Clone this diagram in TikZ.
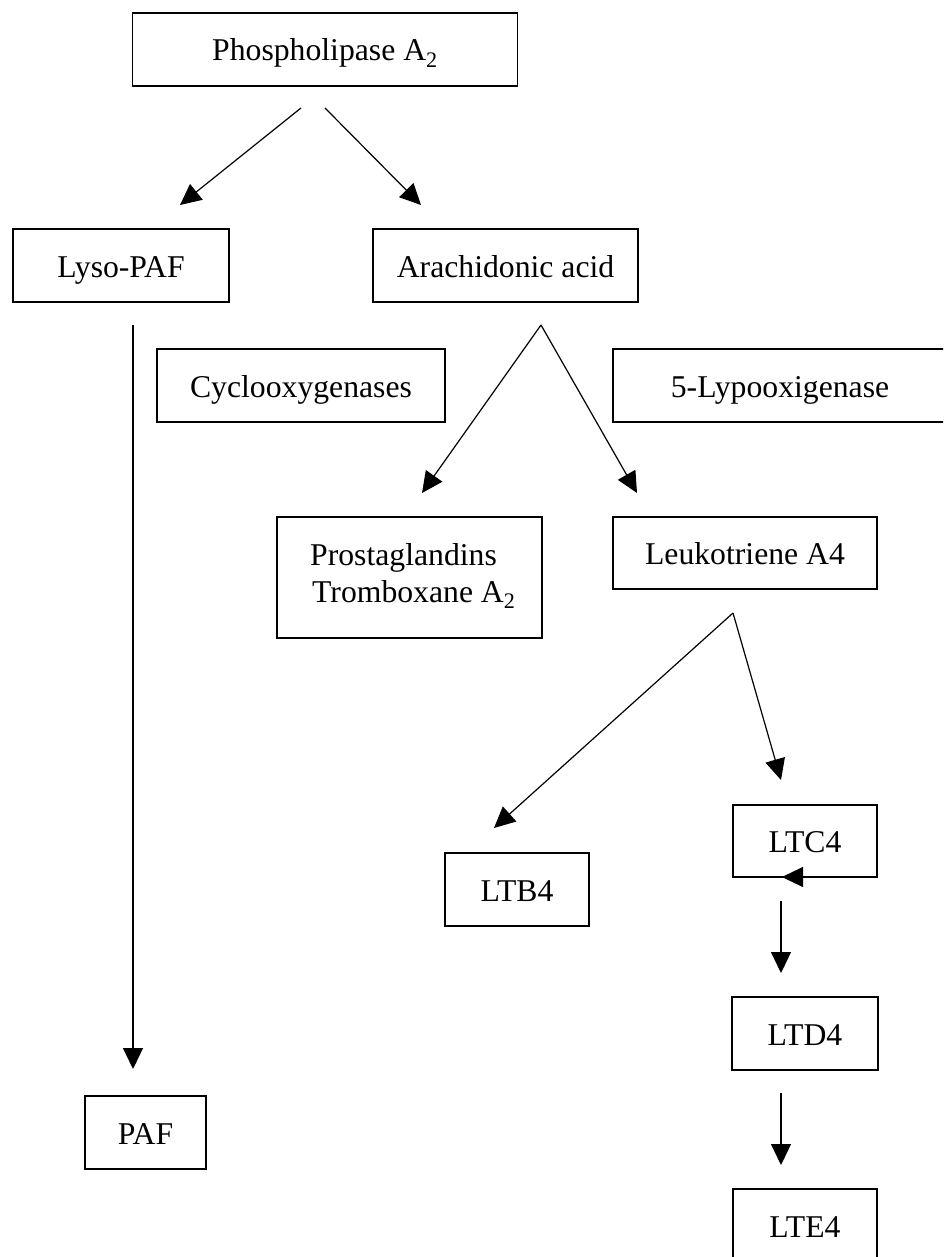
\documentclass[tikz,border=0pt]{standalone}
\usepackage{fontspec}
\setmainfont{Liberation Serif}
\usetikzlibrary{arrows.meta}
\tikzset{
  box/.style={draw, line width=1.4pt, inner sep=0pt, text height=30pt, text depth=7pt,
    font=\fontsize{31.7}{37}\selectfont},
  txt/.style={inner sep=0pt, font=\fontsize{31.7}{37}\selectfont},
  conn/.style={line width=1.2pt, -{Triangle[length=21pt,width=20pt]}},
}
\begin{document}
\begin{tikzpicture}[x=1pt,y=-1pt]
\useasboundingbox (0,0) rectangle (943,1257);
\clip (0,0) rectangle (943,1257);
% boxes
\node[box, minimum width=385, minimum height=73] (pla) at (325,49.5) {Phospholipase A\textsubscript{2}};
\node[box, minimum width=216, minimum height=73] (lyso) at (121,265.5) {Lyso-PAF};
\node[box, minimum width=265, minimum height=73] (arach) at (505.5,265.5) {Arachidonic acid};
\node[box, minimum width=288, minimum height=73] (cox) at (301,385.5) {Cyclooxygenases};
\node[box, minimum width=340, minimum height=73, text width=340, align=center] (lox) at (783,385.5) {\hspace*{-6pt}5-Lypooxigenase};
\node[box, minimum width=265, minimum height=121] (prost) at (409.5,577.5) {};
\node[txt, anchor=base west] (prost1) at (310,565) {Prostaglandins};
\node[txt, anchor=base west] (prost2) at (312,602) {Tromboxane A\textsubscript{2}};
\node[box, minimum width=264, minimum height=72] (leuko) at (745,553) {Leukotriene A4};
\node[box, minimum width=144, minimum height=73] (ltb4) at (517,889.5) {LTB4};
\node[box, minimum width=144, minimum height=72] (ltc4) at (805,841) {LTC4};
\node[box, minimum width=146, minimum height=73] (ltd4) at (805,1033.5) {LTD4};
\node[box, minimum width=144, minimum height=73] (lte4) at (805,1225.5) {LTE4};
\node[box, minimum width=121, minimum height=73] (paf) at (145.5,1132.5) {PAF};
% connector end points
\coordinate (plaL) at (301,108);
\coordinate (plaR) at (325,108);
\coordinate (lysoIn) at (180,205);
\coordinate (arachIn) at (421,205);
\coordinate (lysoOut) at (133,325);
\coordinate (pafIn) at (133,1069);
\coordinate (arachOut) at (541,325);
\coordinate (prostIn) at (422,493);
\coordinate (leukoIn) at (637,493);
\coordinate (leukoOut) at (733,613);
\coordinate (ltbIn) at (494,828);
\coordinate (ltcIn) at (781,780);
\coordinate (ltcOut) at (781,901);
\coordinate (ltdIn) at (781,973);
\coordinate (ltdOut) at (781,1093);
\coordinate (lteIn) at (781,1165);
\coordinate (ltcMarkA) at (803,877);
\coordinate (ltcMarkB) at (782,877);
% connectors
\draw[conn] (plaL) -- (lysoIn);
\draw[conn] (plaR) -- (arachIn);
\draw[conn] (lysoOut) -- (pafIn);
\draw[conn] (arachOut) -- (prostIn);
\draw[conn] (arachOut) -- (leukoIn);
\draw[conn] (leukoOut) -- (ltbIn);
\draw[conn] (leukoOut) -- (ltcIn);
\draw[conn] (ltcOut) -- (ltdIn);
\draw[conn] (ltdOut) -- (lteIn);
\draw[conn] (ltcMarkA) -- (ltcMarkB);
\end{tikzpicture}
\end{document}
